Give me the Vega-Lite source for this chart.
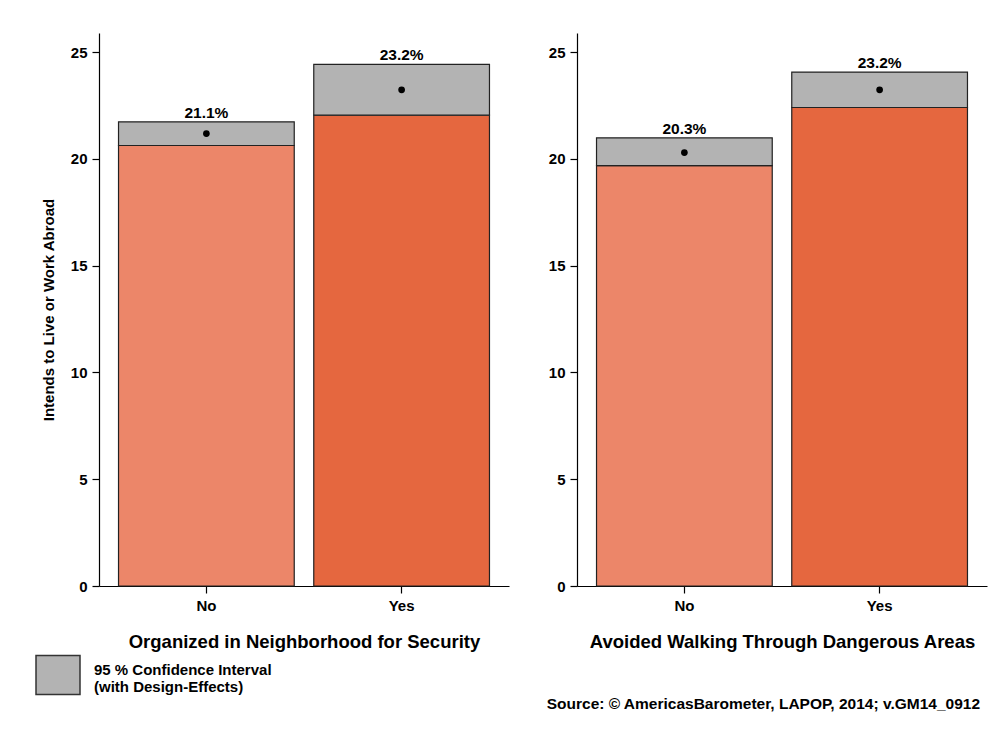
{
  "$schema": "https://vega.github.io/schema/vega-lite/v6.json",
  "padding": {"left": 35, "top": 33, "right": 5, "bottom": 5},
  "background": "white",
  "datasets": {
    "d": [
      {"panel": "A", "cat": "No", "lo": 20.63, "hi": 21.74, "mean": 21.19, "label": "21.1%"},
      {"panel": "A", "cat": "Yes", "lo": 22.05, "hi": 24.43, "mean": 23.24, "label": "23.2%"},
      {"panel": "B", "cat": "No", "lo": 19.69, "hi": 20.99, "mean": 20.30, "label": "20.3%"},
      {"panel": "B", "cat": "Yes", "lo": 22.41, "hi": 24.07, "mean": 23.24, "label": "23.2%"}
    ]
  },
  "title": {
    "text": "Source: © AmericasBarometer, LAPOP, 2014; v.GM14_0912",
    "orient": "bottom",
    "anchor": "end",
    "fontSize": 15.5,
    "fontWeight": "bold",
    "font": "Liberation Sans",
    "color": "black",
    "dx": -7,
    "offset": -1
  },
  "config": {
    "font": "Liberation Sans",
    "view": {"stroke": null},
    "axis": {
      "domainColor": "black",
      "domainWidth": 1.2,
      "tickColor": "black",
      "tickWidth": 1.2,
      "tickSize": 7,
      "labelFontSize": 15,
      "labelFontWeight": "bold",
      "labelColor": "black",
      "grid": false,
      "titleColor": "black",
      "titleFontWeight": "bold"
    },
    "axisX": {"titleFontSize": 18.5, "titlePadding": 19, "labelPadding": 5, "labelAngle": 0},
    "axisY": {"titleFontSize": 15, "titlePadding": 14, "labelPadding": 5},
    "legend": {"labelLineHeight": 14}
  },
  "spacing": 39,
  "hconcat": [
    {
      "width": 410,
      "height": 553,
      "data": {"name": "d"},
      "transform": [{"filter": "datum.panel === 'A'"}],
      "encoding": {
        "x": {"field": "cat", "type": "nominal", "scale": {"paddingInner": 0.1, "paddingOuter": 0.1}, "axis": {"title": "Organized in Neighborhood for Security"}}
      },
      "layer": [
        {
          "mark": {"type": "bar", "stroke": "#222222", "strokeWidth": 1.2},
          "encoding": {
            "y": {"field": "lo", "type": "quantitative", "scale": {"domain": [0, 25.9], "nice": false}, "axis": {"title": "Intends to Live or Work Abroad", "values": [0, 5, 10, 15, 20, 25]}},
            "fill": {"field": "cat", "type": "nominal", "scale": {"domain": ["No", "Yes"], "range": ["#EC8669", "#E5673F"]}, "legend": null}
          }
        },
        {
          "mark": {"type": "bar", "stroke": "#222222", "strokeWidth": 1.2},
          "encoding": {
            "y": {"field": "lo", "type": "quantitative"},
            "y2": {"field": "hi"},
            "color": {
              "datum": "CI",
              "type": "nominal",
              "scale": {"range": ["#B3B3B3"]},
              "legend": {
                "orient": "none",
                "legendX": -64,
                "legendY": 619,
                "title": null,
                "symbolType": "M-1,-0.886H1V0.886H-1Z",
                "symbolSize": 1936,
                "symbolStrokeColor": "#333333",
                "symbolStrokeWidth": 1.5,
                "labelExpr": "['95 % Confidence Interval', '(with Design-Effects)']",
                "labelFontSize": 15,
                "labelFontWeight": "bold",
                "labelColor": "black",
                "labelOffset": 13,
                "labelLimit": 400,
                "labelBaseline": "alphabetic"
              }
            }
          }
        },
        {
          "mark": {"type": "point", "filled": true, "color": "black", "size": 45, "opacity": 1},
          "encoding": {"y": {"field": "mean", "type": "quantitative"}}
        },
        {
          "mark": {"type": "text", "dy": -4, "fontSize": 15.5, "fontWeight": "bold", "color": "black", "baseline": "alphabetic"},
          "encoding": {"y": {"field": "hi", "type": "quantitative"}, "text": {"field": "label"}}
        }
      ]
    },
    {
      "width": 410,
      "height": 553,
      "data": {"name": "d"},
      "transform": [{"filter": "datum.panel === 'B'"}],
      "encoding": {
        "x": {"field": "cat", "type": "nominal", "scale": {"paddingInner": 0.1, "paddingOuter": 0.1}, "axis": {"title": "Avoided Walking Through Dangerous Areas"}}
      },
      "layer": [
        {
          "mark": {"type": "bar", "stroke": "#222222", "strokeWidth": 1.2},
          "encoding": {
            "y": {"field": "lo", "type": "quantitative", "scale": {"domain": [0, 25.9], "nice": false}, "axis": {"title": null, "values": [0, 5, 10, 15, 20, 25]}},
            "fill": {"field": "cat", "type": "nominal", "scale": {"domain": ["No", "Yes"], "range": ["#EC8669", "#E5673F"]}, "legend": null}
          }
        },
        {
          "mark": {"type": "bar", "stroke": "#222222", "strokeWidth": 1.2},
          "encoding": {
            "y": {"field": "lo", "type": "quantitative"},
            "y2": {"field": "hi"},
            "color": {
              "datum": "CI",
              "type": "nominal",
              "scale": {"range": ["#B3B3B3"]},
              "legend": {
                "orient": "none",
                "legendX": -64,
                "legendY": 619,
                "title": null,
                "symbolType": "M-1,-0.886H1V0.886H-1Z",
                "symbolSize": 1936,
                "symbolStrokeColor": "#333333",
                "symbolStrokeWidth": 1.5,
                "labelExpr": "['95 % Confidence Interval', '(with Design-Effects)']",
                "labelFontSize": 15,
                "labelFontWeight": "bold",
                "labelColor": "black",
                "labelOffset": 13,
                "labelLimit": 400,
                "labelBaseline": "alphabetic"
              }
            }
          }
        },
        {
          "mark": {"type": "point", "filled": true, "color": "black", "size": 45, "opacity": 1},
          "encoding": {"y": {"field": "mean", "type": "quantitative"}}
        },
        {
          "mark": {"type": "text", "dy": -4, "fontSize": 15.5, "fontWeight": "bold", "color": "black", "baseline": "alphabetic"},
          "encoding": {"y": {"field": "hi", "type": "quantitative"}, "text": {"field": "label"}}
        }
      ]
    }
  ]
}
